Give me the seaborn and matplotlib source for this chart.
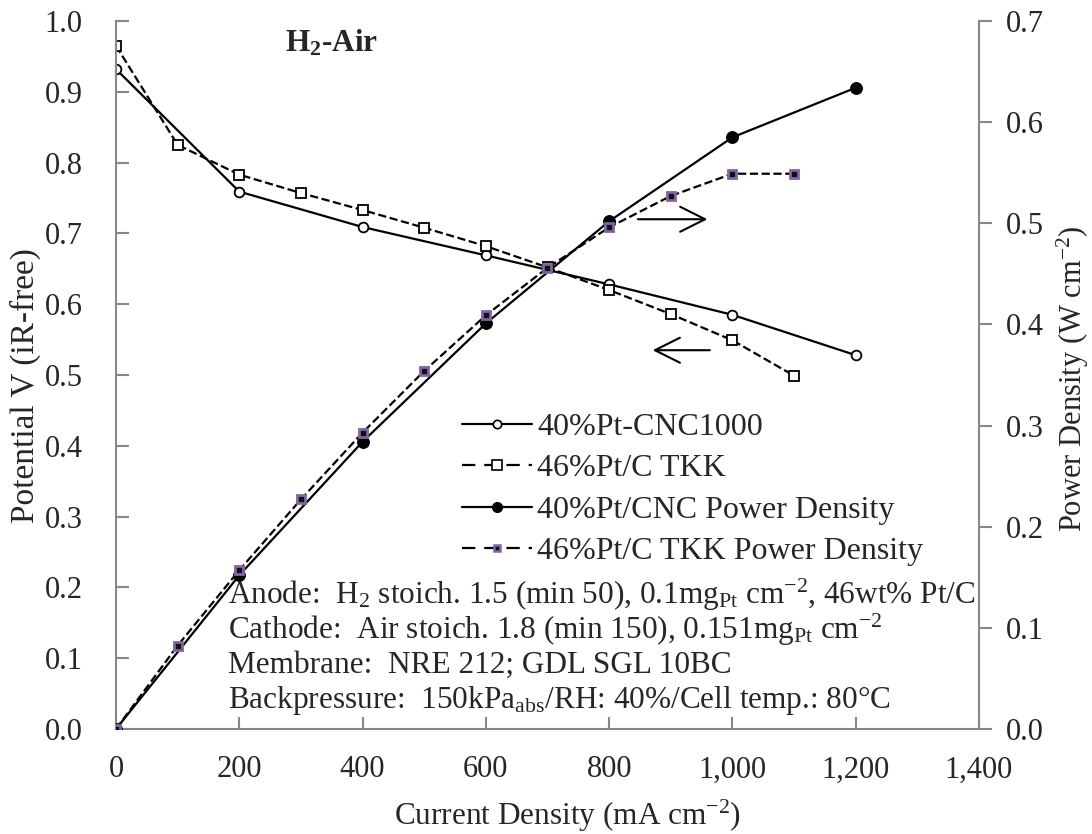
import matplotlib
matplotlib.use("Agg")
import matplotlib.pyplot as plt
import seaborn as sns
from matplotlib.ticker import FuncFormatter, MultipleLocator
from matplotlib.lines import Line2D

# ---- data ----
cnc_current = [0, 200, 400, 600, 800, 1000, 1200]
cnc_voltage = [0.932, 0.759, 0.709, 0.669, 0.628, 0.585, 0.528]
cnc_power = [0.0, 0.152, 0.284, 0.401, 0.502, 0.585, 0.634]

tkk_current = [0, 100, 200, 300, 400, 500, 600, 700, 800, 900, 1000, 1100]
tkk_voltage = [0.965, 0.825, 0.783, 0.757, 0.733, 0.708, 0.682, 0.652, 0.620, 0.586, 0.549, 0.499]
tkk_power = [0.0, 0.0825, 0.157, 0.227, 0.293, 0.354, 0.409, 0.456, 0.496, 0.527, 0.549, 0.549]

series_labels = ["40%Pt-CNC1000", "46%Pt/C TKK",
                 "40%Pt/CNC Power Density", "46%Pt/C TKK Power Density"]
x_ticks = [0, 200, 400, 600, 800, 1000, 1200, 1400]

sns.set_theme(style="white")
plt.rcParams['font.family'] = ['Liberation Serif', 'DejaVu Serif']
plt.rcParams['mathtext.fontset'] = 'custom'
plt.rcParams['mathtext.rm'] = 'Liberation Serif'
plt.rcParams['mathtext.it'] = 'Liberation Serif:italic'
plt.rcParams['mathtext.bf'] = 'Liberation Serif:bold'

FS = 22.5
TFS = 22
GRAY = '#888888'
PURPLE = '#8064A2'

fig = plt.figure(figsize=(10.92, 8.34), dpi=100)
ax = fig.add_axes([116/1092, 1-729/834, (979-116)/1092, (729-21)/834])
ax2 = ax.twinx()

lw = 1.6
dash = (6, 4)

sns.lineplot(x=cnc_current, y=cnc_voltage, ax=ax, color='black', lw=lw,
             marker='o', markersize=7, markerfacecolor='white',
             markeredgecolor='black', markeredgewidth=1.3)
sns.lineplot(x=tkk_current, y=tkk_voltage, ax=ax, color='black', lw=lw,
             linestyle='--', dashes=dash,
             marker='s', markersize=7.5, markerfacecolor='white',
             markeredgecolor='black', markeredgewidth=1.3)

sns.lineplot(x=cnc_current, y=cnc_power, ax=ax2, color='black', lw=lw,
             marker='o', markersize=8.5, markerfacecolor='black',
             markeredgecolor='black')
sns.lineplot(x=tkk_current, y=tkk_power, ax=ax2, color='black', lw=lw,
             linestyle='--', dashes=dash,
             marker='s', markersize=5.5, markerfacecolor='#111111',
             markeredgecolor=PURPLE, markeredgewidth=2.0)

ax.set_xlim(0, 1400)
ax.set_ylim(0, 1.0)
ax2.set_ylim(0, 0.7)
ax.set_xticks(x_ticks)
ax.xaxis.set_major_formatter(FuncFormatter(lambda v, p: f"{int(v):,}"))
ax.yaxis.set_major_locator(MultipleLocator(0.1))
ax.yaxis.set_major_formatter(FuncFormatter(lambda v, p: f"{v:.1f}"))
ax2.yaxis.set_major_locator(MultipleLocator(0.1))
ax2.yaxis.set_major_formatter(FuncFormatter(lambda v, p: f"{v:.1f}"))

for a in (ax, ax2):
    for s in a.spines.values():
        s.set_color(GRAY)
        s.set_linewidth(1.5)
    a.spines['top'].set_visible(False)
ax.spines['right'].set_visible(False)
ax2.spines['left'].set_visible(False)
ax2.spines['bottom'].set_visible(False)

ax.tick_params(axis='x', direction='in', length=9, width=1.5, color=GRAY,
               labelsize=TFS, pad=19, bottom=True)
ax.tick_params(axis='y', direction='in', length=9, width=1.5, color=GRAY,
               labelsize=TFS, pad=24, left=True)
ax2.tick_params(axis='y', direction='out', length=9, width=1.5, color=GRAY,
                labelsize=TFS, pad=10, right=True)

ax.set_xlabel('Current Density (mA cm$^{-2}$)', fontsize=FS)
ax.xaxis.set_label_coords(0.5226, -0.097)
ax.set_ylabel('Potential V (iR-free)', fontsize=24)
ax.yaxis.set_label_coords(-0.087, 0.485)
ax2.set_ylabel('Power Density (W cm$^{-2}$)', fontsize=22)
ax2.yaxis.set_label_coords(1.088, 0.495)

ax.text(274, 0.968, '$\\mathbf{H_2}$-Air', fontsize=FS, fontweight='bold',
        ha='left', va='center')

lines_txt = [
    'Anode:  H$_2$ stoich. 1.5 (min 50), 0.1mg$_{\\mathrm{Pt}}$ cm$^{-2}$, 46wt% Pt/C',
    'Cathode:  Air stoich. 1.8 (min 150), 0.151mg$_{\\mathrm{Pt}}$ cm$^{-2}$',
    'Membrane:  NRE 212; GDL SGL 10BC',
    'Backpressure:  150kPa$_{\\mathrm{abs}}$/RH: 40%/Cell temp.: 80°C',
]
for i, t in enumerate(lines_txt):
    ax.text(181, 0.189 - i * 0.0495, t, fontsize=FS, ha='left', va='center')

arrow_kw = dict(arrowstyle='->,head_length=1.5,head_width=0.75', color='black', lw=1.5)
ax.annotate('', xy=(964, 0.720), xytext=(842, 0.720), arrowprops=arrow_kw)
ax.annotate('', xy=(866, 0.535), xytext=(968, 0.535), arrowprops=arrow_kw)

handles = [
    Line2D([], [], color='black', lw=lw, marker='o', markersize=6,
           markerfacecolor='white', markeredgecolor='black', markeredgewidth=1.2),
    Line2D([], [], color='black', lw=lw, linestyle='--', dashes=dash, marker='s',
           markersize=6.5, markerfacecolor='white', markeredgecolor='black', markeredgewidth=1.2),
    Line2D([], [], color='black', lw=lw, marker='o', markersize=7,
           markerfacecolor='black', markeredgecolor='black'),
    Line2D([], [], color='black', lw=lw, linestyle='--', dashes=dash, marker='s',
           markersize=5, markerfacecolor='#111111', markeredgecolor=PURPLE, markeredgewidth=1.8),
]
for a in (ax, ax2):
    lg = a.get_legend()
    if lg:
        lg.remove()
ax2.legend(handles, series_labels, loc='upper left', bbox_to_anchor=(0.401, 0.447),
           frameon=False, fontsize=23, handlelength=2.2, handletextpad=0.16,
           labelspacing=0.38, borderpad=0, borderaxespad=0)

fig.savefig('out.png', dpi=100)
